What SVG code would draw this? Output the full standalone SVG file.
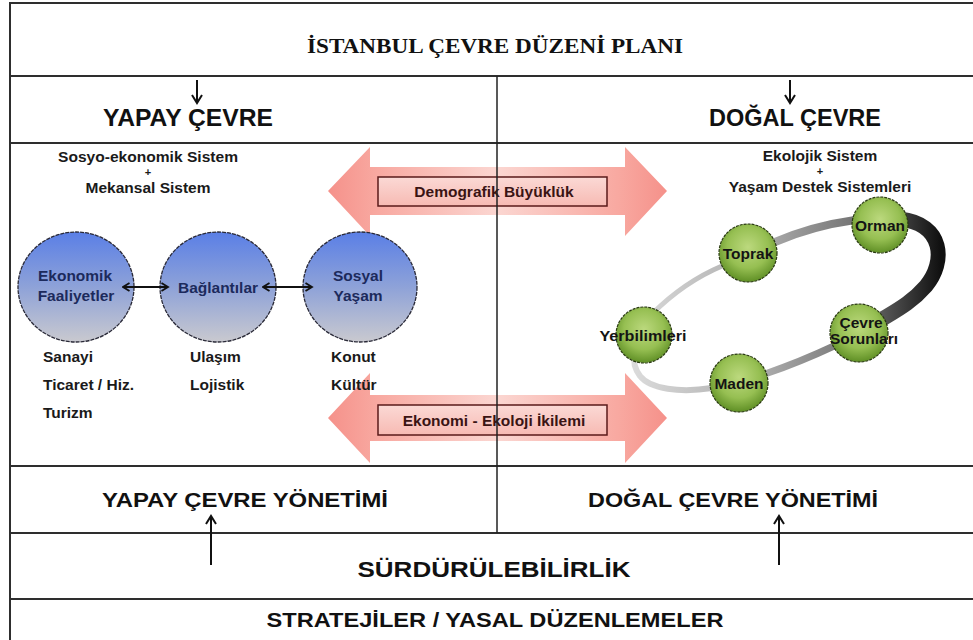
<svg xmlns="http://www.w3.org/2000/svg" width="973" height="640" viewBox="0 0 973 640">
<defs>
<style>
.frame{stroke:#2e2e2e;stroke-width:2;fill:none}
.div{stroke:#222;stroke-width:1.5;fill:none}
.h{font-family:"Liberation Sans",Arial,sans-serif;font-weight:bold;fill:#111;text-anchor:middle}
.s{font-family:"Liberation Sans",Arial,sans-serif;font-weight:bold;font-size:15.5px;fill:#1a1a1a}
.sc{font-family:"Liberation Sans",Arial,sans-serif;font-weight:bold;font-size:15.5px;fill:#1a1a1a;text-anchor:middle}
.pl{font-family:"Liberation Sans",Arial,sans-serif;font-weight:bold;font-size:11px;fill:#1a1a1a;text-anchor:middle}
.bl{font-family:"Liberation Sans",Arial,sans-serif;font-weight:bold;font-size:15.5px;fill:#1c2a5c;text-anchor:middle}
.gl{font-family:"Liberation Sans",Arial,sans-serif;font-weight:bold;font-size:15.5px;fill:#141414;text-anchor:middle}
.bt{font-family:"Liberation Sans",Arial,sans-serif;font-weight:bold;font-size:15.5px;fill:#3a1414;text-anchor:middle}
.blue{fill:url(#gBlue);stroke:#2a2a38;stroke-width:1.3;stroke-dasharray:4 1}
.green{fill:url(#gGreen);stroke:#2a3a12;stroke-width:1.2;stroke-dasharray:3 1}
.pink{fill:url(#gPink)}
.lbox{fill:url(#gBox);stroke:#5a1a1a;stroke-width:1.5}
.arr{stroke:#111;stroke-width:2;fill:none}
.dbl{stroke:#111;stroke-width:1.8;fill:none;marker-start:url(#sm);marker-end:url(#sm)}
.ring{fill:none;stroke-linecap:round}
</style>
<marker id="chev" viewBox="0 0 12 12" refX="10" refY="6" markerWidth="12" markerHeight="12" markerUnits="userSpaceOnUse" orient="auto-start-reverse">
<path d="M2,1 L10,6 L2,11" fill="none" stroke="#111" stroke-width="2"/>
</marker>
<marker id="sm" viewBox="0 0 10 10" refX="8.5" refY="5" markerWidth="10" markerHeight="10" markerUnits="userSpaceOnUse" orient="auto-start-reverse">
<path d="M2,1 L8.5,5 L2,9" fill="none" stroke="#111" stroke-width="1.8"/>
</marker>
<linearGradient id="gBlue" x1="0" y1="0" x2="0" y2="1">
<stop offset="0" stop-color="#5a7fe6"/>
<stop offset="0.5" stop-color="#8ea2d8"/>
<stop offset="1" stop-color="#c9c9cf"/>
</linearGradient>
<radialGradient id="gGreen" cx="0.5" cy="0.4" r="0.6">
<stop offset="0" stop-color="#bcd97e"/>
<stop offset="0.6" stop-color="#96bf52"/>
<stop offset="1" stop-color="#5f8f25"/>
</radialGradient>
<linearGradient id="gPink" x1="328" y1="0" x2="667" y2="0" gradientUnits="userSpaceOnUse">
<stop offset="0" stop-color="#f5918a"/>
<stop offset="0.14" stop-color="#f8a8a0"/>
<stop offset="0.5" stop-color="#fbd6d1"/>
<stop offset="0.86" stop-color="#f8a8a0"/>
<stop offset="1" stop-color="#f5918a"/>
</linearGradient>
<linearGradient id="gBox" x1="0" y1="0" x2="0" y2="1">
<stop offset="0" stop-color="#fbd9d5"/>
<stop offset="1" stop-color="#f7bab3"/>
</linearGradient>
<linearGradient id="gRing" x1="630" y1="0" x2="940" y2="0" gradientUnits="userSpaceOnUse">
<stop offset="0" stop-color="#dcdcdc"/>
<stop offset="0.45" stop-color="#a8a8a8"/>
<stop offset="0.75" stop-color="#707070"/>
<stop offset="1" stop-color="#111"/>
</linearGradient>
</defs>

<rect x="0" y="0" width="973" height="640" fill="#fff"/>

<!-- pink double arrows -->
<g id="arrow-demografik">
<polygon class="pink" points="328,191 370,147 370,167 625,167 625,147 667,191 625,236 625,215 370,215 370,236"/>
<rect class="lbox" x="378" y="177" width="229" height="29"/>
<text class="bt" x="494" y="197">Demografik Büyüklük</text>
</g>
<g id="arrow-ikilem">
<polygon class="pink" points="328,418 370,373 370,395 625,395 625,373 667,418 625,463 625,441 370,441 370,463"/>
<rect class="lbox" x="378" y="405" width="229" height="30"/>
<text class="bt" x="494" y="426">Ekonomi - Ekoloji İkilemi</text>
</g>

<!-- frame -->
<g id="frame">
<line class="frame" x1="10" y1="3" x2="973" y2="3"/>
<line class="frame" x1="10" y1="2" x2="10" y2="640"/>
<line class="frame" x1="10" y1="76" x2="973" y2="76"/>
<line class="frame" x1="10" y1="143" x2="973" y2="143"/>
<line class="frame" x1="10" y1="466" x2="973" y2="466"/>
<line class="frame" x1="10" y1="533" x2="973" y2="533"/>
<line class="frame" x1="10" y1="599" x2="973" y2="599"/>
<line class="div" x1="497" y1="76" x2="497" y2="533"/>
</g>

<g id="title">
<text x="495" y="53" font-family="'Liberation Serif','Times New Roman',serif" font-weight="bold" font-size="21" text-anchor="middle" fill="#111" textLength="376" lengthAdjust="spacingAndGlyphs">İSTANBUL ÇEVRE DÜZENİ PLANI</text>
</g>
<g id="yapay-cevre"><text class="h" x="188" y="126" font-size="23" textLength="170" lengthAdjust="spacingAndGlyphs">YAPAY ÇEVRE</text></g>
<g id="dogal-cevre"><text class="h" x="795" y="126" font-size="23" textLength="172" lengthAdjust="spacingAndGlyphs">DOĞAL ÇEVRE</text></g>
<g id="yapay-yonetim"><text class="h" x="245" y="507" font-size="21" textLength="286" lengthAdjust="spacingAndGlyphs">YAPAY ÇEVRE YÖNETİMİ</text></g>
<g id="dogal-yonetim"><text class="h" x="733" y="507" font-size="21" textLength="290" lengthAdjust="spacingAndGlyphs">DOĞAL ÇEVRE YÖNETİMİ</text></g>
<g id="surdurulebilirlik"><text class="h" x="494" y="577" font-size="22" textLength="273" lengthAdjust="spacingAndGlyphs">SÜRDÜRÜLEBİLİRLİK</text></g>
<g id="stratejiler"><text class="h" x="495" y="627" font-size="21" textLength="457" lengthAdjust="spacingAndGlyphs">STRATEJİLER / YASAL DÜZENLEMELER</text></g>

<!-- left system header -->
<g id="sosyo-header">
<text class="sc" x="148" y="162" textLength="180" lengthAdjust="spacingAndGlyphs">Sosyo-ekonomik Sistem</text>
<text class="pl" x="148" y="176">+</text>
<text class="sc" x="148" y="193">Mekansal Sistem</text>
</g>

<g id="ekonomik">
<ellipse class="blue" cx="76" cy="287" rx="58" ry="55"/>
<text class="bl" x="75" y="281">Ekonomik</text>
<text class="bl" x="76" y="301">Faaliyetler</text>
</g>
<g id="baglantilar">
<ellipse class="blue" cx="218" cy="287" rx="58" ry="55"/>
<text class="bl" x="218" y="293">Bağlantılar</text>
</g>
<g id="sosyal">
<ellipse class="blue" cx="360" cy="287" rx="57" ry="55"/>
<text class="bl" x="358" y="281">Sosyal</text>
<text class="bl" x="358" y="301">Yaşam</text>
</g>

<g id="left-lists">
<text class="s" x="43" y="362">Sanayi</text>
<text class="s" x="43" y="390">Ticaret / Hiz.</text>
<text class="s" x="43" y="418">Turizm</text>
<text class="s" x="190" y="362">Ulaşım</text>
<text class="s" x="190" y="390">Lojistik</text>
<text class="s" x="331" y="362">Konut</text>
<text class="s" x="331" y="390">Kültür</text>
</g>

<!-- right system header -->
<g id="ekolojik-header">
<text class="sc" x="820" y="161">Ekolojik Sistem</text>
<text class="pl" x="820" y="175">+</text>
<text class="sc" x="820" y="192">Yaşam Destek Sistemleri</text>
</g>

<!-- connectors -->
<g id="connectors">
<line class="arr" x1="197" y1="80" x2="197" y2="103" marker-end="url(#chev)"/>
<line class="arr" x1="790" y1="80" x2="790" y2="103" marker-end="url(#chev)"/>
<line class="arr" x1="211" y1="565" x2="211" y2="516" marker-end="url(#chev)"/>
<line class="arr" x1="779" y1="565" x2="779" y2="516" marker-end="url(#chev)"/>
<line class="dbl" x1="123" y1="287" x2="168" y2="287"/>
<line class="dbl" x1="263" y1="287" x2="312" y2="287"/>
<path class="ring" stroke="url(#gRing)" stroke-width="5" d="M652,314 Q684,282 722,266"/>
<path class="ring" stroke="url(#gRing)" stroke-width="8" d="M775,242 Q812,226 855,220"/>
<path class="ring" stroke="url(#gRing)" stroke-width="15" d="M900,219 C944,224 946,262 926,286 C913,301 899,309 884,318"/>
<path class="ring" stroke="url(#gRing)" stroke-width="7" d="M834,346 Q800,362 765,374"/>
<path class="ring" stroke="url(#gRing)" stroke-width="6" d="M712,388 C680,393 650,389 640,376 C635,369 633,362 635,356"/>
</g>

<g id="orman"><circle class="green" cx="880" cy="225" r="28"/><text class="gl" x="880" y="231">Orman</text></g>
<g id="toprak"><circle class="green" cx="748" cy="253" r="29"/><text class="gl" x="748" y="259">Toprak</text></g>
<g id="yerbilimleri"><circle class="green" cx="644" cy="335" r="28"/><text class="gl" x="643" y="341" textLength="87" lengthAdjust="spacingAndGlyphs">Yerbilimleri</text></g>
<g id="cevre-sorunlari"><circle class="green" cx="859" cy="333" r="29"/><text class="gl" x="861" y="328">Çevre</text><text class="gl" x="864" y="344">Sorunları</text></g>
<g id="maden"><circle class="green" cx="739" cy="383" r="29"/><text class="gl" x="739" y="389">Maden</text></g>
</svg>
